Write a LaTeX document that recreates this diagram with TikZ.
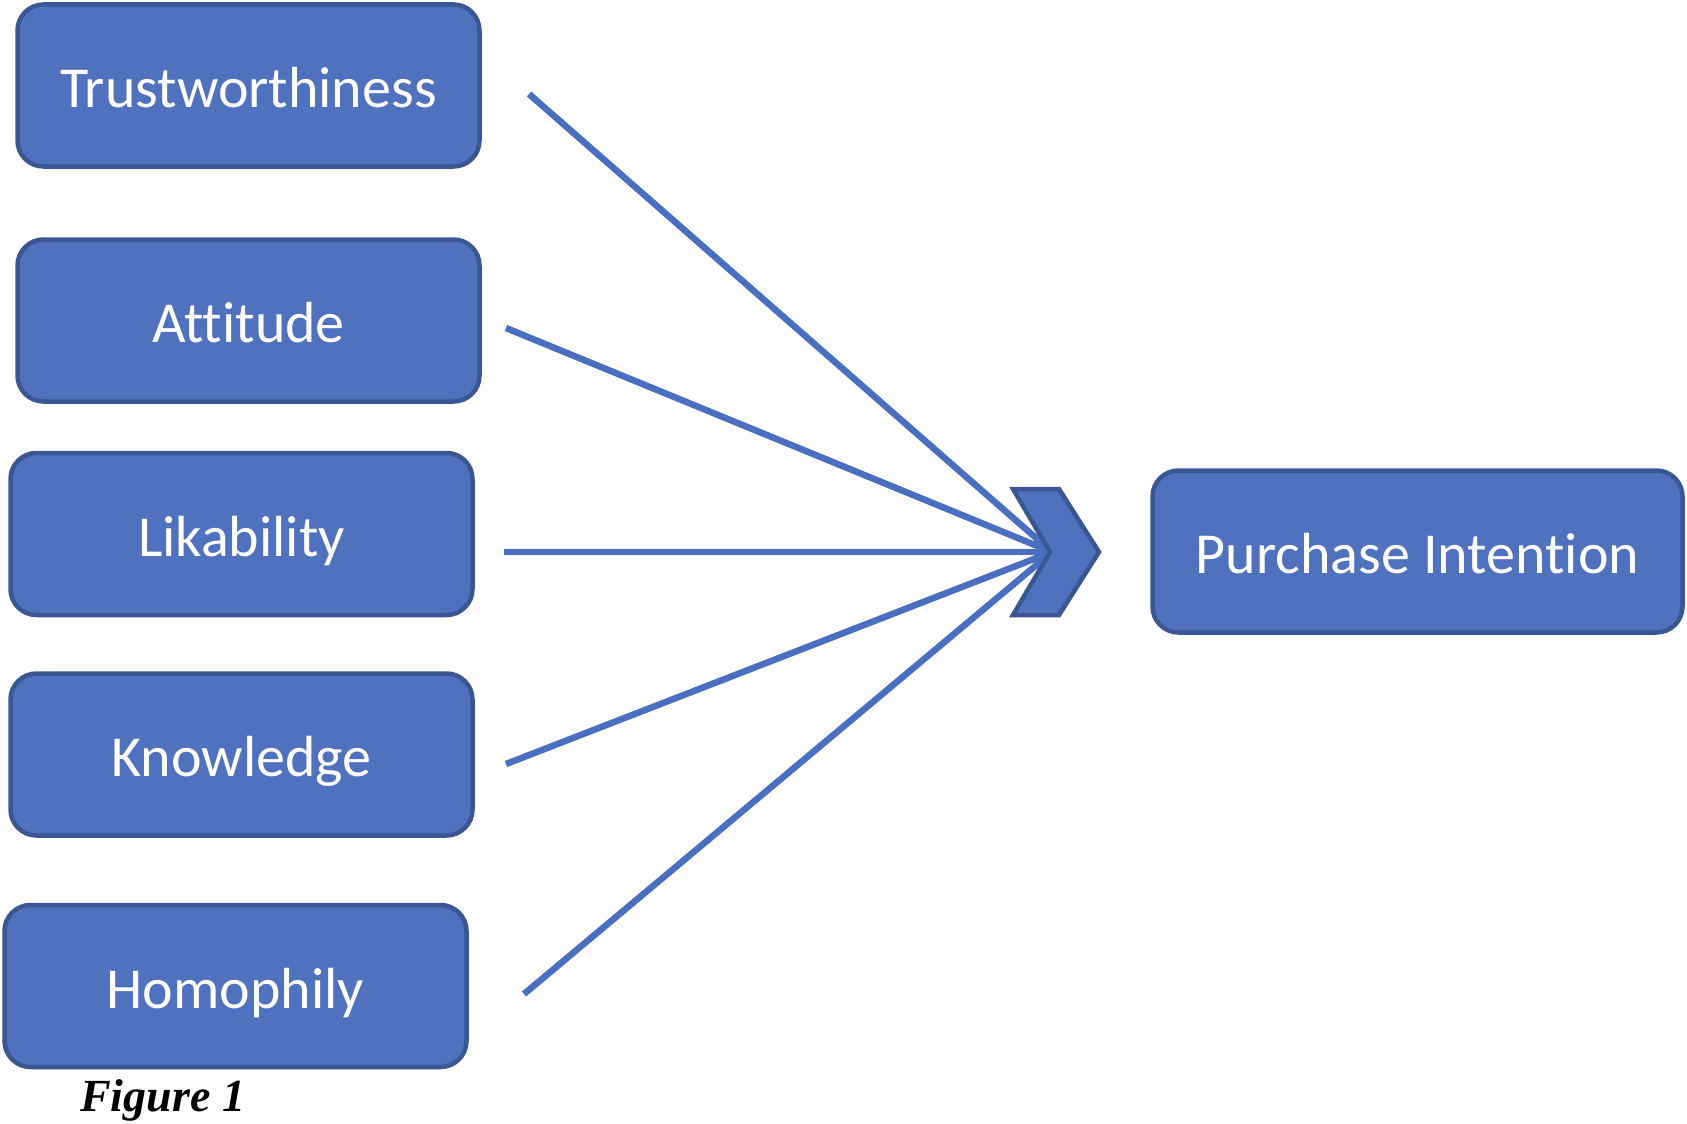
\documentclass[tikz,border=0pt]{standalone}
\usepackage{fontspec}
\setmainfont{Carlito}[Ligatures=NoCommon]
\newfontfamily\timesf{Liberation Serif}
\definecolor{boxfill}{HTML}{4F71BE}
\definecolor{boxedge}{HTML}{3A5794}
\definecolor{linecol}{HTML}{4A6EC0}
\begin{document}
\begin{tikzpicture}[x=1pt,y=-1pt,
  factor/.style={draw=boxedge, line width=4.5pt, fill=boxfill, rounded corners=26pt,
    minimum width=462pt, minimum height=162pt, text=white, inner sep=0pt,
    text height=44pt, text depth=0pt,
    font=\fontsize{58}{66}\selectfont},
  link/.style={draw=linecol, line width=6.5pt}]
\useasboundingbox (0,0) rectangle (1687,1124);

\node[factor] (trust) at (248.5,85.5) {Trustworthiness};
\node[factor] (att) at (248.5,320.5) {Attitude};
\node[factor] (lik) at (241.5,534) {Likability};
\node[factor] (know) at (241.5,754.5) {Knowledge};
\node[factor] (homo) at (235.5,986) {Homophily};
\node[factor, minimum width=530pt] (pi) at (1417.5,551.5) {Purchase Intention};

\coordinate (s1) at (529,94);
\coordinate (s2) at (506,328);
\coordinate (s3) at (504,552);
\coordinate (s4) at (506,764);
\coordinate (s5) at (524,994);
\coordinate (hub) at (1052,552);

\draw[link] (s1) -- (hub);
\draw[link] (s2) -- (hub);
\draw[link] (s3) -- (hub);
\draw[link] (s4) -- (hub);
\draw[link] (s5) -- (hub);

\draw[draw=boxedge, line width=4.5pt, fill=boxfill, line join=miter]
  (1013,489) -- (1059,489) -- (1099,552) -- (1059,615) -- (1013,615) -- (1050,552) -- cycle;

\node[anchor=west, inner sep=0pt, font=\timesf\bfseries\itshape\fontsize{46}{52}\selectfont] (cap) at (80,1100) {Figure 1};
\end{tikzpicture}
\end{document}
